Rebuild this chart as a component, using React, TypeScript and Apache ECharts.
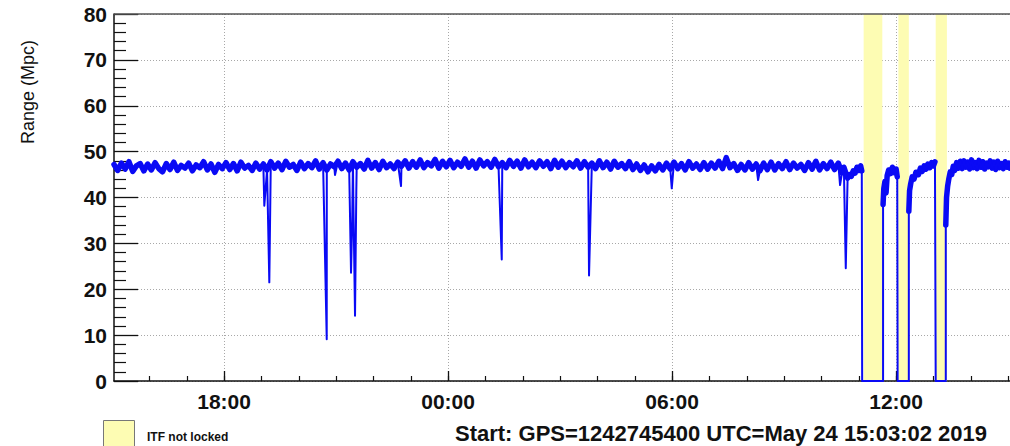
import React, { useEffect, useRef } from "react";
import * as echarts from "echarts";

// Start of the plotted window: 15:03:02 UTC (hours of day)
const START_HOUR = 15 + 3 / 60 + 2 / 3600;
const SPAN_HOURS = 24;
const BASE_STEP = 0.1; // hours between samples of the regular trace

// BNS range (Mpc) sampled every 0.1 h from the start, t = 0 .. 19.5 h
const baselineRange = [
  47.2, 45.9, 47.5, 46.2, 47.8, 45.7, 46.9, 47.4, 45.8, 47.3,
  46.0, 47.6, 46.3, 45.6, 47.4, 46.1, 47.7, 45.9, 47.0, 46.4,
  47.5, 45.8, 47.1, 46.5, 47.8, 46.0, 47.3, 45.5, 47.2, 46.3,
  47.6, 46.1, 47.4, 45.8, 47.7, 46.4, 47.0, 45.9, 47.5, 46.2,
  47.3, 46.0, 47.8, 46.4, 47.5, 46.1, 47.9, 46.6, 47.2, 45.9,
  47.7, 46.3, 47.4, 46.5, 48.0, 46.2, 47.6, 46.0, 47.3, 46.7,
  47.9, 46.3, 47.5, 46.0, 47.8, 46.6, 47.4, 46.2, 48.1, 46.4,
  47.6, 46.1, 47.9, 46.5, 47.3, 46.3, 47.7, 46.8, 48.0, 46.4,
  47.8, 46.6, 48.2, 46.5, 47.6, 46.9, 48.3, 46.4, 47.9, 46.7,
  48.1, 46.5, 47.7, 46.8, 48.4, 46.6, 47.9, 46.4, 48.2, 46.9,
  47.8, 46.6, 48.3, 46.7, 47.6, 46.5, 48.1, 46.8, 47.9, 46.4,
  48.2, 46.7, 47.7, 46.5, 48.0, 46.8, 47.8, 46.3, 48.1, 46.6,
  47.9, 46.5, 47.6, 46.7, 48.0, 46.4, 47.8, 46.6, 47.5, 46.3,
  48.0, 46.5, 47.7, 46.2, 47.9, 46.6, 47.4, 46.3, 47.8, 46.1,
  47.3, 45.9, 47.1, 45.6, 46.9, 45.8, 47.2, 46.0, 47.5, 46.2,
  47.7, 46.3, 47.4, 46.0, 47.8, 46.4, 47.3, 46.1, 47.6, 46.2,
  47.5, 46.4, 47.9, 46.3, 48.7, 46.5, 47.4, 45.9, 47.2, 46.0,
  47.6, 46.2, 47.3, 45.8, 47.5, 46.1, 47.7, 46.0, 47.4, 46.3,
  47.8, 46.1, 47.5, 46.4, 47.2, 45.9, 47.6, 46.2, 47.9, 46.0,
  47.4, 46.3, 47.7, 46.1, 47.5, 45.4,
];

// Short glitches: [hours from start, minimum range (Mpc)]
const glitchDips = [
  [4.026, 38.2], [4.16, 21.5], [5.698, 9.1], [5.92, 44.9],
  [6.349, 23.6], [6.38, 34.7], [6.41, 40.5], [6.456, 14.2], [6.49, 41.2],
  [7.688, 42.5], [10.386, 26.5], [12.724, 23.0], [14.94, 42.0],
  [17.252, 43.8], [19.448, 42.7], [19.601, 24.6],
];

// Lock losses and recoveries: [hours from start, range (Mpc)]
const lockLossTrace = [
  [19.55, 46.6], [19.65, 44.2], [19.7, 45.0], [19.75, 44.6], [19.8, 45.8],
  [19.85, 45.3], [19.9, 46.6], [19.95, 45.9], [20.0, 46.9], [20.03, 45.8],
  [20.04, 0], [20.6, 0], [20.6, 38.5], [20.62, 42.0], [20.65, 43.5],
  [20.68, 41.0], [20.71, 44.8], [20.75, 46.0], [20.8, 45.2], [20.85, 46.6],
  [20.9, 45.4], [20.95, 46.2], [20.98, 44.5], [20.99, 0], [21.29, 0],
  [21.29, 37.0], [21.31, 41.5], [21.34, 43.0], [21.38, 44.5], [21.43, 44.0],
  [21.48, 45.5], [21.55, 45.0], [21.6, 46.4], [21.65, 45.7], [21.7, 46.9],
  [21.75, 46.2], [21.8, 47.3], [21.85, 46.5], [21.9, 47.6], [21.95, 46.9],
  [21.99, 47.8], [22.01, 0], [22.28, 0], [22.28, 34.0], [22.3, 40.0],
  [22.33, 42.5], [22.36, 44.0], [22.4, 45.6], [22.44, 45.0], [22.48, 46.8],
  [22.52, 45.9], [22.57, 47.6], [22.62, 46.4], [22.67, 47.9], [22.72, 46.3],
  [22.77, 48.0], [22.82, 46.6], [22.87, 47.7], [22.92, 46.2], [22.97, 48.2],
  [23.02, 46.5], [23.07, 47.6], [23.12, 46.3], [23.17, 48.1], [23.22, 46.6],
  [23.27, 47.8], [23.32, 46.2], [23.37, 47.5], [23.42, 46.7], [23.47, 48.0],
  [23.52, 46.4], [23.57, 47.7], [23.62, 46.1], [23.67, 47.9], [23.72, 46.5],
  [23.77, 47.4], [23.82, 46.3], [23.87, 47.8], [23.92, 46.6], [23.97, 47.5],
  [24.0, 46.4],
];

// Periods where the interferometer was not locked: [start, end] hours from start
const notLockedPeriods = [
  [20.08, 20.58],
  [21.01, 21.29],
  [22.01, 22.31],
];

const majorTickHours = [18, 24, 30, 36];
const minorTickHours = [
  16, 17, 18, 19, 20, 21, 22, 23, 24, 25, 26, 27,
  28, 29, 30, 31, 32, 33, 34, 35, 36, 37, 38, 39,
];

const yTitle = "Range (Mpc)";
const legendLabel = "ITF not locked";
const startLabel = "Start: GPS=1242745400 UTC=May 24 15:03:02 2019";

const FONT = "'Liberation Sans', Arial, Helvetica, sans-serif";
const TRACE_BLUE = "#0a0af5";

export default function App() {
  const ref = useRef<HTMLDivElement>(null);

  useEffect(() => {
    if (!ref.current) return;
    const chart = echarts.init(ref.current, undefined, { renderer: "svg" });

    // continuous (locked) noise trace, broken wherever the range is zero
    const noisePts: number[][] = [];
    baselineRange.forEach((v, i) => noisePts.push([i * BASE_STEP, v]));
    lockLossTrace.forEach((p) => noisePts.push([p[0], p[1]]));
    const bandData = noisePts.map((p) => [START_HOUR + p[0], p[1] > 0 ? p[1] : "-"]);

    // full trace including glitches and lock losses
    const points: number[][] = [];
    baselineRange.forEach((v, i) => points.push([i * BASE_STEP, v]));
    glitchDips.forEach((p) => points.push([p[0], p[1]]));
    lockLossTrace.forEach((p) => points.push([p[0], p[1]]));
    const indexed = points.map((p, i) => ({ p, i }));
    indexed.sort((a, b) => (a.p[0] - b.p[0]) || (a.i - b.i));
    const data = indexed.map(({ p }) => [START_HOUR + p[0], p[1]]);

    const fmt = (v: number) => `${String(Math.round(v) % 24).padStart(2, "0")}:00`;

    chart.setOption({
      animation: false,
      backgroundColor: "#ffffff",
      grid: { left: 114, top: 14, width: 896, height: 367, containLabel: false },
      xAxis: [
        {
          type: "value",
          position: "bottom",
          min: START_HOUR,
          max: START_HOUR + SPAN_HOURS,
          axisLine: { show: true, onZero: false, lineStyle: { color: "#111", width: 1.5 } },
          axisTick: {
            show: true,
            inside: true,
            length: 10,
            customValues: majorTickHours,
            lineStyle: { color: "#111", width: 1.3 },
          },
          axisLabel: {
            show: true,
            customValues: majorTickHours,
            formatter: fmt,
            fontSize: 21,
            fontWeight: "bold",
            fontFamily: FONT,
            color: "#111",
            margin: 10,
          },
          splitLine: { show: true, lineStyle: { type: [1, 2], color: "#a8a8a8", width: 1 } },
        },
        {
          type: "value",
          position: "bottom",
          min: START_HOUR,
          max: START_HOUR + SPAN_HOURS,
          axisLine: { show: false, onZero: false },
          axisTick: {
            show: true,
            inside: true,
            length: 5,
            customValues: minorTickHours,
            lineStyle: { color: "#111", width: 1.2 },
          },
          axisLabel: { show: false },
          splitLine: { show: false },
        },
      ],
      yAxis: {
        type: "value",
        min: 0,
        max: 80,
        interval: 10,
        axisLine: { show: true, lineStyle: { color: "#111", width: 1.5 } },
        axisTick: { show: true, inside: true, length: 24, lineStyle: { color: "#111", width: 1.3 } },
        minorTick: { show: true, splitNumber: 5, length: 12, lineStyle: { color: "#111", width: 1.2 } },
        axisLabel: {
          fontSize: 21,
          fontWeight: "bold",
          fontFamily: FONT,
          color: "#111",
          margin: 7,
        },
        splitLine: { show: true, lineStyle: { type: [1, 2], color: "#a8a8a8", width: 1 } },
        minorSplitLine: { show: false },
      },
      series: [
        {
          type: "line",
          xAxisIndex: 0,
          data: bandData,
          showSymbol: false,
          symbol: "none",
          connectNulls: false,
          lineStyle: { color: TRACE_BLUE, width: 5.5, join: "round", cap: "round" },
          z: 3,
          markArea: {
            silent: true,
            itemStyle: { color: "#fdfcb3", opacity: 1 },
            data: notLockedPeriods.map(([a, b]) => [
              { xAxis: START_HOUR + a },
              { xAxis: START_HOUR + b },
            ]),
          },
        },
        {
          type: "line",
          xAxisIndex: 0,
          data,
          showSymbol: false,
          symbol: "none",
          lineStyle: { color: TRACE_BLUE, width: 2, join: "round" },
          z: 4,
        },
      ],
      graphic: [
        {
          type: "line",
          shape: { x1: 114, y1: 14, x2: 1010, y2: 14 },
          style: { stroke: "#555", lineWidth: 1.5 },
          z: 10,
        },
        {
          type: "text",
          x: 28,
          y: 92,
          rotation: Math.PI / 2,
          style: {
            text: yTitle,
            fontSize: 18,
            fontFamily: FONT,
            fill: "#111",
            align: "center",
            verticalAlign: "middle",
          },
        },
        {
          type: "rect",
          shape: { x: 103.5, y: 420.5, width: 31, height: 30 },
          style: { fill: "#fdfcb3", stroke: "#777", lineWidth: 1 },
        },
        {
          type: "text",
          x: 147,
          y: 437,
          style: {
            text: legendLabel,
            fontSize: 12,
            fontWeight: "bold",
            fontFamily: FONT,
            fill: "#111",
            align: "left",
            verticalAlign: "middle",
          },
        },
        {
          type: "text",
          x: 455,
          y: 433,
          style: {
            text: startLabel,
            fontSize: 22,
            fontWeight: "bold",
            fontFamily: FONT,
            fill: "#111",
            align: "left",
            verticalAlign: "middle",
          },
        },
      ],
    });

    return () => chart.dispose();
  }, []);

  return (
    <div
      ref={ref}
      style={{ position: "absolute", left: 0, top: 0, width: 1010, height: 446, background: "#fff" }}
    />
  );
}
